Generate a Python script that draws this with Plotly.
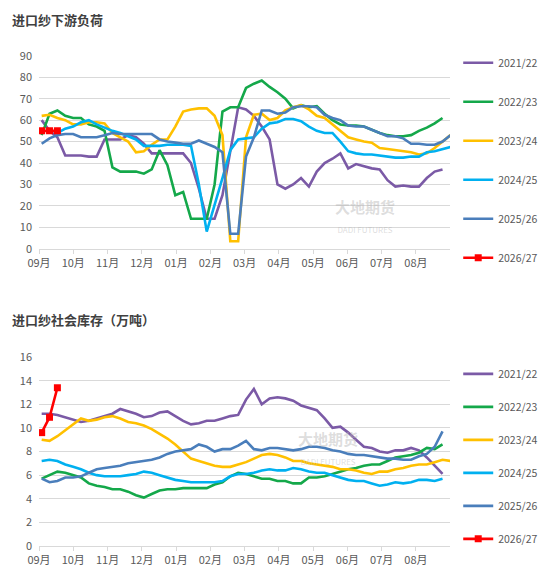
import plotly.graph_objects as go

series = ["2021/22", "2022/23", "2023/24", "2024/25", "2025/26", "2026/27"]
colors = ["#7B5AA6", "#14A84A", "#FFC000", "#00B0F0", "#4A7EBB", "#FF0000"]
months = ["09月", "10月", "11月", "12月", "01月", "02月", "03月", "04月", "05月", "06月", "07月", "08月"]

load_2122 = [60,55,52,43.5,43.5,43.5,43,43,51,51,51,53,52,49,44.5,44.5,44.5,44.5,44.5,40,28,14,14,25,45,66,65,62,57,51,30,28,30,33,29,36,40,42,44.5,37.5,39.5,38.5,37.5,37,32,29,29.5,29,29,33,36,37]
load_2223 = [53,63,64.5,62,61,61,58,57,55,38,36,36,36,35,37,46,39,25,26.5,14,14,14,30,64,66,66,75,77,78.5,75.5,73,70,65.5,67,66,66.5,63,60,58,57.5,57.5,57,55.5,54,53,52.5,52.5,53,55,56.5,58.5,61]
load_2324 = [62,62.5,61,60,58,58,59,59,58.5,54,52,50,45,45.5,48.5,51,51,57,64,65,65.5,65.5,62,53,3.5,3.5,52,62.5,63,60,61,64.5,66,67,65,62,61,58,55,52,51,50,49.5,47,46.5,46,45.5,45,44,44.5,47,50,53,56]
load_2425 = [None,None,54,56,57,59,60,58,56.5,55,54,52.5,51,48,48,48,48.5,48.5,48.5,48,30,8,20,33,46,51,51.5,52,56,58.5,59,60.5,60.5,59.5,57,55,54,54,50,45.5,44.5,44,44,43.5,43,42.5,42.5,43,43,45,45.5,46.5,47.5]
load_2526 = [49,51.5,53,53.5,53.5,52,52,52,53,54,53.5,53.5,53.5,53.5,53.5,51,50,49.5,49,49,50.5,49,47.5,45,7,7,43,52,64.5,64.5,63,63.5,66,66.5,66.5,66,62.5,61,60,57.5,57,57,55.5,54,52.5,52.5,51.5,49,49,48.5,48.5,50,53]
load_2627 = [55,55,55]

inv_2122 = [11.2,11.2,11.1,10.9,10.7,10.5,10.6,10.8,11.0,11.2,11.6,11.4,11.2,10.9,11.0,11.3,11.4,11.0,10.6,10.3,10.4,10.6,10.6,10.8,11.0,11.1,12.4,13.3,12.0,12.5,12.6,12.5,12.3,11.9,11.7,11.5,10.8,10.0,10.1,9.6,9.0,8.4,8.3,8.0,7.9,8.1,8.1,8.3,8.1,7.5,6.8,6.1]
inv_2223 = [5.7,6.0,6.3,6.2,6.0,5.8,5.3,5.1,5.0,4.8,4.8,4.6,4.3,4.1,4.4,4.7,4.8,4.8,4.9,4.9,4.9,4.9,5.2,5.4,5.9,6.2,6.1,5.9,5.7,5.7,5.5,5.5,5.3,5.3,5.8,5.8,5.9,6.1,6.3,6.5,6.6,6.8,6.9,6.9,7.2,7.5,7.6,7.7,7.9,8.3,8.2,8.6]
inv_2324 = [9.0,8.9,9.3,9.8,10.3,10.8,10.6,10.7,10.9,11.0,10.8,10.5,10.4,10.2,9.9,9.5,9.1,8.6,8.0,7.4,7.2,7.0,6.8,6.7,6.7,6.9,7.1,7.4,7.7,7.8,7.7,7.5,7.2,7.2,7.0,6.9,6.8,6.7,6.5,6.5,6.4,6.2,6.1,6.3,6.3,6.5,6.6,6.8,6.9,6.9,7.1,7.3,7.2]
inv_2425 = [7.2,7.3,7.2,6.9,6.7,6.5,6.2,6.0,5.9,5.9,5.9,6.0,6.1,6.3,6.2,6.0,5.8,5.6,5.5,5.4,5.4,5.4,5.4,5.5,5.9,6.1,6.1,6.2,6.4,6.5,6.4,6.4,6.6,6.5,6.3,6.2,6.2,6.0,5.8,5.6,5.5,5.5,5.3,5.1,5.2,5.4,5.3,5.4,5.6,5.6,5.5,5.7]
inv_2526 = [5.7,5.4,5.5,5.8,5.8,5.9,6.2,6.5,6.6,6.7,6.8,7.0,7.1,7.2,7.3,7.5,7.8,8.0,8.1,8.2,8.6,8.4,8.0,8.2,8.2,8.5,8.9,8.2,8.1,8.3,8.3,8.2,8.1,8.2,8.4,8.4,8.3,8.1,8.0,7.8,7.7,7.7,7.6,7.5,7.4,7.4,7.3,7.3,7.6,7.8,8.4,9.7]
inv_2627 = [9.6,10.9,13.4]

load_data = [load_2122, load_2223, load_2324, load_2425, load_2526, load_2627]
inv_data = [inv_2122, inv_2223, inv_2324, inv_2425, inv_2526, inv_2627]

W = 4.36
x0 = -0.34
tickvals = [x0 + W * k for k in range(12)]
xr = [x0, 51.95]

fig = go.Figure()
for i, name in enumerate(series):
    red = name == "2026/27"
    for ya, data, leg in (("y", load_data[i], "legend"), ("y2", inv_data[i], "legend2")):
        fig.add_trace(go.Scatter(
            x=list(range(len(data))), y=data, name=name, yaxis=ya,
            xaxis="x" if ya == "y" else "x2", legend=leg, legendgroup=name + ya,
            mode="lines+markers" if red else "lines",
            line=dict(color=colors[i], width=2.6),
            marker=dict(symbol="square", size=7, color=colors[i]),
            connectgaps=False))

grid = "#D9D9D9"
ax = dict(range=xr, tickvals=tickvals, ticktext=months, showgrid=False,
          showline=True, linecolor=grid, ticks="outside", tickcolor=grid, ticklen=4,
          tickfont=dict(size=11, color="#595959"), zeroline=False)
fig.update_layout(
    width=550, height=576, paper_bgcolor="white", plot_bgcolor="white",
    margin=dict(l=31, r=108, t=0, b=0, autoexpand=False),
    font=dict(family="Noto Sans CJK SC", color="#595959"),
    xaxis=dict(ax, domain=[0, 1], anchor="y"),
    xaxis2=dict(ax, domain=[0, 1], anchor="y2"),
    yaxis=dict(domain=[0.582, 0.917], range=[0, 90], dtick=10, gridcolor=grid,
               tickfont=dict(size=11), zeroline=False, ticklabelstandoff=6),
    yaxis2=dict(domain=[0.066, 0.394], range=[0, 16], dtick=2, gridcolor=grid,
                tickfont=dict(size=11), zeroline=False, ticklabelstandoff=6),
    legend=dict(x=1.02, y=0.93, xanchor="left", yanchor="top", tracegroupgap=20,
                traceorder="grouped", font=dict(size=10.5, color="#595959"), itemwidth=30),
    legend2=dict(x=1.02, y=0.39, xanchor="left", yanchor="top", tracegroupgap=14,
                 traceorder="grouped", font=dict(size=10.5, color="#595959"), itemwidth=30),
    annotations=[
        dict(text="<b>进口纱下游负荷</b>", x=-0.07, y=1.0, xref="paper", yref="paper",
             xanchor="left", yanchor="top", showarrow=False, font=dict(size=13, color="#404040")),
        dict(text="<b>进口纱社会库存（万吨）</b>", x=-0.07, y=0.48, xref="paper", yref="paper",
             xanchor="left", yanchor="top", showarrow=False, font=dict(size=13, color="#404040")),
        dict(text="<b>大地期货</b><br><span style='font-size:8px'>DADI FUTURES</span>", x=0.87, y=0.64,
             xref="paper", yref="paper", showarrow=False, font=dict(size=15, color="rgba(180,180,180,0.45)")),
        dict(text="<b>大地期货</b><br><span style='font-size:8px'>DADI FUTURES</span>", x=0.78, y=0.2,
             xref="paper", yref="paper", showarrow=False, font=dict(size=15, color="rgba(180,180,180,0.45)")),
    ])
fig.write_html("out.html")
